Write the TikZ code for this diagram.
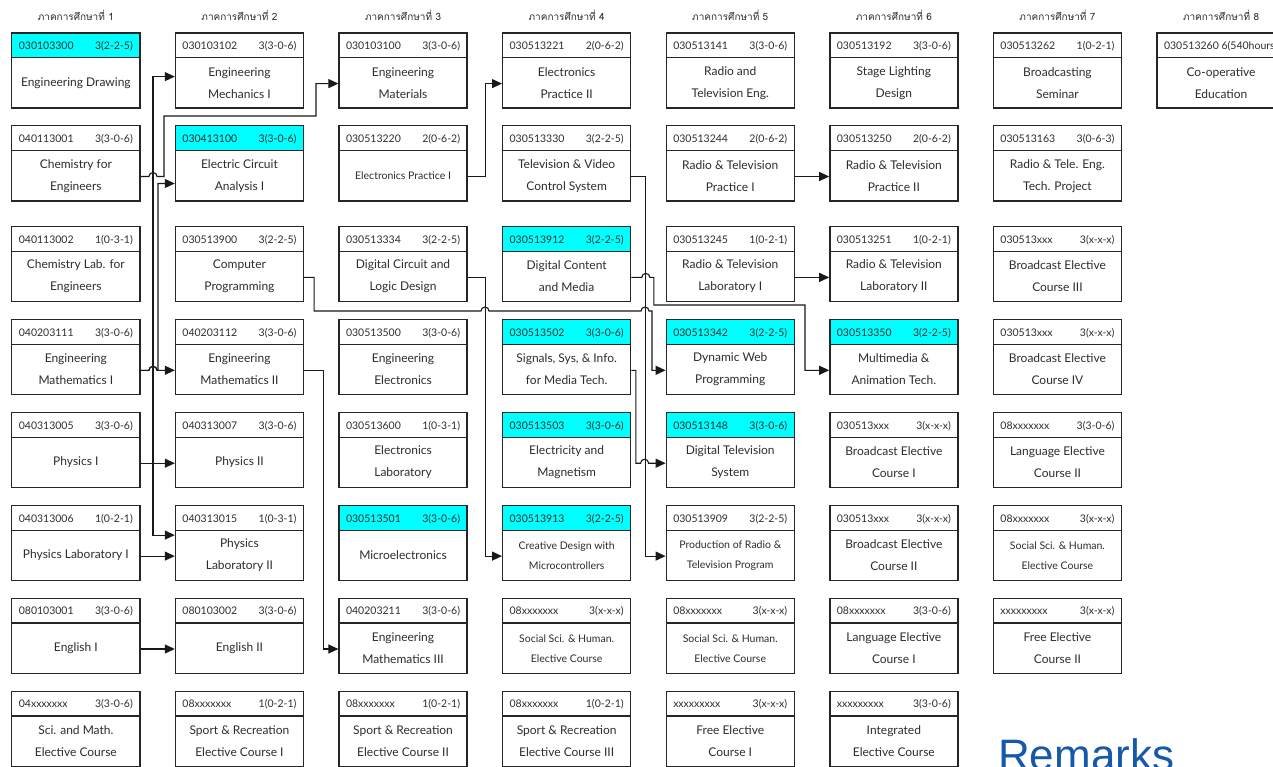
\documentclass[tikz,border=0pt]{standalone}
\usepackage{fontspec}
\setmainfont{Lato}
\newfontfamily\thaifont[Script=Thai]{Loma}
\newfontfamily\remfont{Liberation Sans}
\usepackage{tikz}
\usetikzlibrary{shapes.multipart, positioning, calc, arrows.meta}
\definecolor{remblue}{RGB}{22,88,170}
\definecolor{ink}{RGB}{45,45,45}
\definecolor{headcyan}{RGB}{0,255,255}
\newcommand{\hdfont}{\fontsize{10.5}{12}\selectfont}
\newcommand{\smtxt}{\fontsize{10.5}{20}\selectfont}
\newcommand{\crs}[3]{\hbox to 128pt{\hspace{7pt}\hdfont #1\hfill #2\hspace{7pt}\rule[-7.5pt]{0pt}{23.5pt}}\nodepart{two}\parbox[c][49pt][c]{128pt}{\centering\fontsize{12}{22}\selectfont #3}}
\tikzstyle{course} = [rectangle split, rectangle split parts=2, draw=black!85, line width=1.3pt, inner sep=0pt, text=ink]
\tikzstyle{cyanhead} = [rectangle split part fill={headcyan,white}]
\tikzstyle{semester} = [inner sep=0pt, text=ink, font=\thaifont\fontsize{10}{12}\selectfont]
\tikzstyle{prereq} = [->, >={Triangle[length=10pt,width=9pt]}, line width=1.1pt, draw=black!90]
\begin{document}
\begin{tikzpicture}[x=1pt, y=-1pt]
\useasboundingbox (0,0) rectangle (1273,767);
\fill[white] (0,0) rectangle (1273,767);
\matrix (plan) [row sep=16.5pt, column sep=34.3pt, inner sep=0pt, anchor=north west] at (11,32) {
 \node(c11)[course, cyanhead]{\crs{030103300}{3(2-2-5)}{Engineering Drawing}}; &
 \node(c21)[course]{\crs{030103102}{3(3-0-6)}{Engineering\\Mechanics I}}; &
 \node(c31)[course]{\crs{030103100}{3(3-0-6)}{Engineering\\Materials}}; &
 \node(c41)[course]{\crs{030513221}{2(0-6-2)}{Electronics\\Practice II}}; &
 \node(c51)[course]{\crs{030513141}{3(3-0-6)}{Radio and\\Television Eng.}}; &
 \node(c61)[course]{\crs{030513192}{3(3-0-6)}{Stage Lighting\\Design}}; &
 \node(c71)[course]{\crs{030513262}{1(0-2-1)}{Broadcasting\\Seminar}}; &
 \node(c81)[course]{\crs{030513260~6(540hours)}{}{Co-operative\\Education}}; \\
 \node(c12)[course]{\crs{040113001}{3(3-0-6)}{Chemistry for\\Engineers}}; &
 \node(c22)[course, cyanhead]{\crs{030413100}{3(3-0-6)}{Electric Circuit\\Analysis I}}; &
 \node(c32)[course]{\crs{030513220}{2(0-6-2)}{\smtxt Electronics Practice I}}; &
 \node(c42)[course]{\crs{030513330}{3(2-2-5)}{Television \& Video\\Control System}}; &
 \node(c52)[course]{\crs{030513244}{2(0-6-2)}{Radio \& Television\\Practice I}}; &
 \node(c62)[course]{\crs{030513250}{2(0-6-2)}{Radio \& Television\\Practice II}}; &
 \node(c72)[course]{\crs{030513163}{3(0-6-3)}{Radio \& Tele. Eng.\\Tech. Project}}; & \\[8pt]
 \node(c13)[course]{\crs{040113002}{1(0-3-1)}{Chemistry Lab. for\\Engineers}}; &
 \node(c23)[course]{\crs{030513900}{3(2-2-5)}{Computer\\Programming}}; &
 \node(c33)[course]{\crs{030513334}{3(2-2-5)}{Digital Circuit and\\Logic Design}}; &
 \node(c43)[course, cyanhead]{\crs{030513912}{3(2-2-5)}{Digital Content\\and Media}}; &
 \node(c53)[course]{\crs{030513245}{1(0-2-1)}{Radio \& Television\\Laboratory I}}; &
 \node(c63)[course]{\crs{030513251}{1(0-2-1)}{Radio \& Television\\Laboratory II}}; &
 \node(c73)[course]{\crs{030513xxx}{3(x-x-x)}{Broadcast Elective\\Course III}}; & \\
 \node(c14)[course]{\crs{040203111}{3(3-0-6)}{Engineering\\Mathematics I}}; &
 \node(c24)[course]{\crs{040203112}{3(3-0-6)}{Engineering\\Mathematics II}}; &
 \node(c34)[course]{\crs{030513500}{3(3-0-6)}{Engineering\\Electronics}}; &
 \node(c44)[course, cyanhead]{\crs{030513502}{3(3-0-6)}{Signals, Sys, \& Info.\\for Media Tech.}}; &
 \node(c54)[course, cyanhead]{\crs{030513342}{3(2-2-5)}{Dynamic Web\\Programming}}; &
 \node(c64)[course, cyanhead]{\crs{030513350}{3(2-2-5)}{Multimedia \&\\Animation Tech.}}; &
 \node(c74)[course]{\crs{030513xxx}{3(x-x-x)}{Broadcast Elective\\Course IV}}; & \\
 \node(c15)[course]{\crs{040313005}{3(3-0-6)}{Physics I}}; &
 \node(c25)[course]{\crs{040313007}{3(3-0-6)}{Physics II}}; &
 \node(c35)[course]{\crs{030513600}{1(0-3-1)}{Electronics\\Laboratory}}; &
 \node(c45)[course, cyanhead]{\crs{030513503}{3(3-0-6)}{Electricity and\\Magnetism}}; &
 \node(c55)[course, cyanhead]{\crs{030513148}{3(3-0-6)}{Digital Television\\System}}; &
 \node(c65)[course]{\crs{030513xxx}{3(x-x-x)}{Broadcast Elective\\Course I}}; &
 \node(c75)[course]{\crs{08xxxxxxx}{3(3-0-6)}{Language Elective\\Course II}}; & \\
 \node(c16)[course]{\crs{040313006}{1(0-2-1)}{Physics Laboratory I}}; &
 \node(c26)[course]{\crs{040313015}{1(0-3-1)}{Physics\\Laboratory II}}; &
 \node(c36)[course, cyanhead]{\crs{030513501}{3(3-0-6)}{Microelectronics}}; &
 \node(c46)[course, cyanhead]{\crs{030513913}{3(2-2-5)}{\smtxt Creative Design with\\Microcontrollers}}; &
 \node(c56)[course]{\crs{030513909}{3(2-2-5)}{\smtxt Production of Radio \&\\Television Program}}; &
 \node(c66)[course]{\crs{030513xxx}{3(x-x-x)}{Broadcast Elective\\Course II}}; &
 \node(c76)[course]{\crs{08xxxxxxx}{3(x-x-x)}{\smtxt Social Sci. \& Human.\\Elective Course}}; & \\
 \node(c17)[course]{\crs{080103001}{3(3-0-6)}{English I}}; &
 \node(c27)[course]{\crs{080103002}{3(3-0-6)}{English II}}; &
 \node(c37)[course]{\crs{040203211}{3(3-0-6)}{Engineering\\Mathematics III}}; &
 \node(c47)[course]{\crs{08xxxxxxx}{3(x-x-x)}{\smtxt Social Sci. \& Human.\\Elective Course}}; &
 \node(c57)[course]{\crs{08xxxxxxx}{3(x-x-x)}{\smtxt Social Sci. \& Human.\\Elective Course}}; &
 \node(c67)[course]{\crs{08xxxxxxx}{3(3-0-6)}{Language Elective\\Course I}}; &
 \node(c77)[course]{\crs{xxxxxxxxx}{3(x-x-x)}{Free Elective\\Course II}}; & \\
 \node(c18)[course]{\crs{04xxxxxxx}{3(3-0-6)}{Sci. and Math.\\Elective Course}}; &
 \node(c28)[course]{\crs{08xxxxxxx}{1(0-2-1)}{Sport \& Recreation\\Elective Course I}}; &
 \node(c38)[course]{\crs{08xxxxxxx}{1(0-2-1)}{Sport \& Recreation\\Elective Course II}}; &
 \node(c48)[course]{\crs{08xxxxxxx}{1(0-2-1)}{Sport \& Recreation\\Elective Course III}}; &
 \node(c58)[course]{\crs{xxxxxxxxx}{3(x-x-x)}{Free Elective\\Course I}}; &
 \node(c68)[course]{\crs{xxxxxxxxx}{3(3-0-6)}{Integrated\\Elective Course}}; & & \\
};
\foreach \i in {1,...,8}
  \node(sem\i)[semester] at ([yshift=17pt]c\i1.north) {ภาคการศึกษาที่ \i};
\node(remarks)[anchor=base west, inner sep=0pt, text=remblue, font=\remfont\fontsize{44}{44}\selectfont] at (998,770) {Remarks};
\draw [prereq] ([yshift=25pt]c15.south east) -- ([yshift=25pt]c25.south west);
\draw [prereq] ([yshift=25pt]c15.south east) -- ++(12.5,0) |- ([yshift=32pt]c21.south west);
\draw [prereq] ([yshift=25pt]c15.south east) -- ++(12.5,0) |- ([yshift=46pt]c26.south west);
\draw [prereq] ([yshift=25pt]c16.south east) -- ([yshift=25pt]c26.south west);
\draw [prereq] ([yshift=25pt]c17.south east) -- ([yshift=25pt]c27.south west);
\draw [prereq] ([yshift=25pt]c12.south east) -- ++(8.5,0) arc (180:0:4pt) -- ++(7,0) |- (316,116) |- ([yshift=25pt]c31.south west);
\draw [prereq] ([yshift=25pt]c14.south east) -- ++(8.5,0) arc (180:0:4pt) -- ([yshift=25pt]c24.south west);
\draw [prereq] ([yshift=25pt]c14.south east) -- ++(8.5,0) arc (180:0:4pt) -- ++(1,0) |- ([yshift=18pt]c22.south west);
\draw [prereq] ([yshift=25pt]c24.south east) -- ++(19,0) |- ([yshift=25pt]c37.south west);
\draw [prereq] ([yshift=25pt]c23.south east) -- ++(10,0) |- (481,311) arc (180:0:4pt) -- (641,311) arc (180:0:4pt) -- (652,311) |- ([yshift=25pt]c54.south west);
\draw [prereq] ([yshift=25pt]c32.south east) -- ++(18,0) |- ([yshift=25pt]c41.south west);
\draw [prereq] ([yshift=25pt]c33.south east) -- ++(18,0) |- ([yshift=25pt]c46.south west);
\draw [prereq] ([yshift=25pt]c42.south east) -- ++(14.5,0) |- ([yshift=25pt]c56.south west);
\draw [prereq] ([yshift=25pt]c43.south east) -- ++(10.5,0) arc (180:0:4pt) -- ++(4,0) |- (805,305) |- ([yshift=25pt]c64.south west);
\draw [prereq] ([yshift=25pt]c44.south east) -- ++(4.5,0) |- ([xshift=-25pt,yshift=25pt]c55.south west) arc (180:0:4pt) -- ([yshift=25pt]c55.south west);
\draw [prereq] ([yshift=25pt]c52.south east) -- ([yshift=25pt]c62.south west);
\draw [prereq] ([yshift=25pt]c53.south east) -- ([yshift=25pt]c63.south west);
\end{tikzpicture}
\end{document}
